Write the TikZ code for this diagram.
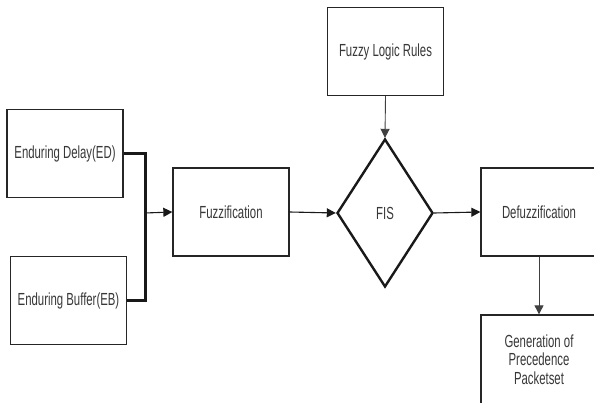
\documentclass[tikz,border=0pt]{standalone}
\usepackage{fontspec}
\setmainfont{Liberation Sans}
\usetikzlibrary{shapes.geometric,arrows.meta}
\newcommand{\sq}[1]{\scalebox{0.65}[1]{#1}}
\tikzset{
  box/.style={draw=black!85, line width=1.3pt, rectangle, minimum width=116pt, minimum height=88pt, inner sep=0pt, text=black!78, font=\fontsize{17.5}{20}\selectfont},
  fis/.style={draw=black!90, line width=2.4pt, diamond, minimum width=96pt, minimum height=148pt, inner sep=0pt, text=black!78, font=\fontsize{17.5}{20}\selectfont},
  arr/.style={draw=black!90, line width=1.1pt, -{Triangle[length=9pt,width=9pt]}},
  thick line/.style={draw=black!90, line width=3pt}
}
\begin{document}
\begin{tikzpicture}[x=1pt,y=-1pt]
\clip (0,0) rectangle (594,403);
\fill[white] (0,0) rectangle (594,403);
\node[box] (ed) at (65,153.5) {\sq{Enduring Delay(ED)}};
\node[box] (eb) at (68.5,300.5) {\sq{Enduring Buffer(EB)}};
\node[box] (fz) at (231,212) {\sq{Fuzzification}};
\node[box] (rules) at (385.5,51.5) {\sq{Fuzzy Logic Rules}};
\node[fis] (fis) at (385,213) {\sq{FIS}};
\node[box] (dz) at (539,212) {\sq{Defuzzification}};
\node[box, minimum height=89pt] (gen) at (539,359.5) {};
\node (gentext) at ([yshift=-2pt]gen.center) [text=black!78, font=\fontsize{17.5}{20}\selectfont, inner sep=0pt] {\sq{\begin{tabular}{@{}c@{}}Generation of\\[-1.5pt] Precedence\\[-1.5pt] Packetset\end{tabular}}};
\coordinate (j) at (145,213);
\draw[thick line] (ed.east) -| (j);
\draw[thick line] (eb.east) -| (j);
\draw[arr] (j) -- (fz.west);
\draw[arr] (fz.east) -- (fis.west);
\draw[arr, line width=0.9pt, draw=black!75] (rules.south) -- (fis.north);
\draw[arr] (fis.east) -- (dz.west);
\draw[arr, line width=0.9pt, draw=black!75] (dz.south) -- (gen.north);
\end{tikzpicture}
\end{document}
